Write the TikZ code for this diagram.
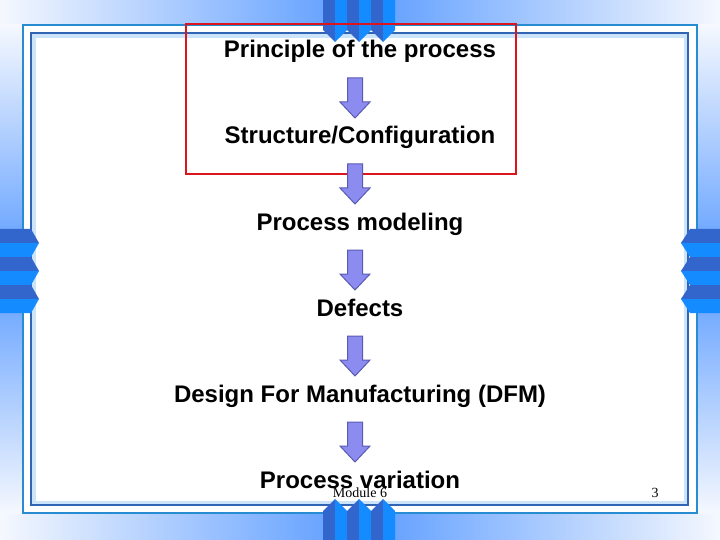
\documentclass[tikz,border=0pt]{standalone}
\usepackage{fontspec}
\setmainfont{Liberation Sans}
\newfontfamily\tmsfont{Liberation Serif}
\definecolor{bgblue}{RGB}{90,155,255}
\definecolor{bgpale}{RGB}{245,248,254}
\definecolor{outerln}{RGB}{40,140,210}
\definecolor{innerln}{RGB}{50,100,180}
\definecolor{bandc}{RGB}{204,228,250}
\definecolor{tabdark}{RGB}{51,102,204}
\definecolor{tablight}{RGB}{20,140,255}
\definecolor{redbox}{RGB}{220,20,30}
\definecolor{arrfill}{RGB}{140,140,240}
\definecolor{arrline}{RGB}{90,90,180}
\tikzset{
  lbl/.style={inner sep=0pt, anchor=base, font=\fontsize{24}{28}\selectfont\bfseries},
  small/.style={inner sep=0pt, anchor=base, font=\fontsize{14}{16}\selectfont\tmsfont},
  dtab/.style={fill=tabdark},
  ltab/.style={fill=tablight},
  barrow/.style={fill=arrfill, draw=arrline, line width=1pt, line join=miter},
  hband/.style={left color=bgpale, right color=bgpale, middle color=bgblue},
  vband/.style={top color=bgpale, bottom color=bgpale, middle color=bgblue},
}
\begin{document}
\begin{tikzpicture}[x=1pt,y=-1pt]
\useasboundingbox (0,0) rectangle (720,540);
% background
\fill[bgpale] (0,0) rectangle (720,540);
\shade[hband] (0,0) rectangle (720,25);
\shade[hband] (0,513) rectangle (720,540);
\shade[vband] (0,25) rectangle (23,513);
\shade[vband] (697,25) rectangle (720,513);
% frame
\fill[white] (23,25) rectangle (697,513);
\fill[bandc] (31,33) rectangle (688,505);
\fill[white] (36,38) rectangle (684,501);
\draw[outerln, line width=2pt] (23,25) rectangle (697,513);
\draw[innerln, line width=2pt] (31,33) rectangle (688,505);
% tabs top and bottom
\foreach \cx in {335,359,383} {
  \fill[dtab] (\cx-12,0) -- (\cx,0) -- (\cx,42) -- (\cx-12,30) -- cycle;
  \fill[ltab] (\cx,0) -- (\cx+12,0) -- (\cx+12,30) -- (\cx,42) -- cycle;
  \fill[dtab] (\cx-12,540) -- (\cx,540) -- (\cx,499) -- (\cx-12,511) -- cycle;
  \fill[ltab] (\cx,540) -- (\cx+12,540) -- (\cx+12,511) -- (\cx,499) -- cycle;
}
% tabs left and right
\foreach \cy in {243,271,299} {
  \fill[dtab] (0,\cy-14) -- (0,\cy) -- (39,\cy) -- (31,\cy-14) -- cycle;
  \fill[ltab] (0,\cy) -- (0,\cy+14) -- (31,\cy+14) -- (39,\cy) -- cycle;
  \fill[dtab] (720,\cy-14) -- (720,\cy) -- (681,\cy) -- (690,\cy-14) -- cycle;
  \fill[ltab] (720,\cy) -- (720,\cy+14) -- (690,\cy+14) -- (681,\cy) -- cycle;
}
% red highlight
\draw[redbox, line width=2pt] (186,24) rectangle (516,174);
% texts
\node[lbl] (t1) at (360,58) {Principle of the process};
\node[lbl] (t2) at (360,144) {Structure/Configuration};
\node[lbl] (t3) at (360,230) {Process modeling};
\node[lbl] (t4) at (360,316) {Defects};
\node[lbl] (t5) at (360,402) {Design For Manufacturing (DFM)};
\node[lbl] (t6) at (360,488) {Process variation};
\node[small] (mod) at (360,497) {Module 6};
\node[small] (pg) at (655,497) {3};
% block arrows
\foreach \y in {78,164,250,336,422} {
  \draw[barrow] (347.5,\y) -- (362.5,\y) -- (362.5,\y+24) -- (370,\y+24) -- (355,\y+40) -- (340,\y+24) -- (347.5,\y+24) -- cycle;
}
\end{tikzpicture}
\end{document}
